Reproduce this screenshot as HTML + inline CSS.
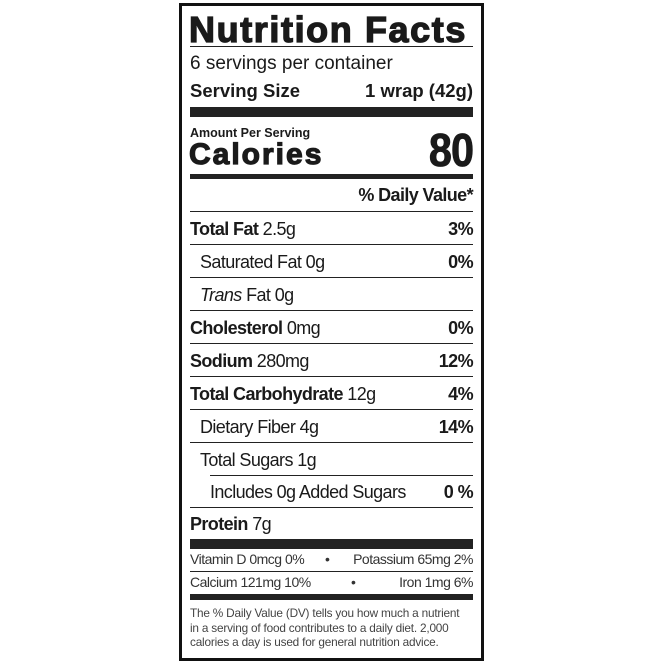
<!DOCTYPE html>
<html><head><style>
body{margin:0;width:664px;height:664px;background:#fff;position:relative;font-family:"Liberation Sans",sans-serif;color:#1a1a1a;overflow:hidden}
.box{position:absolute;left:179px;top:3px;width:299px;height:652px;border:3px solid #111}
.a{position:absolute;white-space:nowrap;line-height:1}
.l{position:absolute;left:190px;width:283px;background:#222}
.r{font-size:18px;letter-spacing:-0.6px}
.b{font-weight:bold}
.rt{position:absolute;right:191px;white-space:nowrap;line-height:1}
.s{font-size:14px;letter-spacing:-0.5px;color:#333}
</style></head><body>
<div class="box"></div>
<div class="a b" style="left:189px;top:12px;font-size:36px;letter-spacing:1.6px;-webkit-text-stroke:1.3px #1a1a1a">Nutrition Facts</div>
<div class="l" style="top:46px;height:1px"></div>
<div class="a" style="left:190px;top:54px;font-size:19px">6 servings per container</div>
<div class="a b" style="left:190px;top:82px;font-size:18.5px">Serving Size</div>
<div class="rt b" style="top:82px;font-size:18.5px">1 wrap (42g)</div>
<div class="l" style="top:107px;height:10px"></div>
<div class="a b" style="left:190px;top:127px;font-size:12.5px">Amount Per Serving</div>
<div class="a b" style="left:189px;top:140px;font-size:30px;letter-spacing:2px;-webkit-text-stroke:1.2px #1a1a1a">Calories</div>
<div class="rt b" style="top:127px;font-size:46px;letter-spacing:-1px;transform:scaleX(0.9);transform-origin:right;-webkit-text-stroke:0.8px #1a1a1a">80</div>
<div class="l" style="top:174px;height:5px"></div>
<div class="rt b r" style="top:186px">% Daily Value*</div>
<div class="l" style="top:211px;height:1px"></div>
<div class="a r" style="left:190px;top:220px"><b>Total Fat</b> 2.5g</div><div class="rt b r" style="top:220px">3%</div>
<div class="l" style="top:244px;height:1px"></div>
<div class="a r" style="left:200px;top:253px">Saturated Fat 0g</div><div class="rt b r" style="top:253px">0%</div>
<div class="l" style="top:277px;height:1px"></div>
<div class="a r" style="left:200px;top:286px"><i>Trans</i> Fat 0g</div>
<div class="l" style="top:310px;height:1px"></div>
<div class="a r" style="left:190px;top:319px"><b>Cholesterol</b> 0mg</div><div class="rt b r" style="top:319px">0%</div>
<div class="l" style="top:343px;height:1px"></div>
<div class="a r" style="left:190px;top:352px"><b>Sodium</b> 280mg</div><div class="rt b r" style="top:352px">12%</div>
<div class="l" style="top:376px;height:1px"></div>
<div class="a r" style="left:190px;top:385px"><b>Total Carbohydrate</b> 12g</div><div class="rt b r" style="top:385px">4%</div>
<div class="l" style="top:409px;height:1px"></div>
<div class="a r" style="left:200px;top:418px">Dietary Fiber 4g</div><div class="rt b r" style="top:418px">14%</div>
<div class="l" style="top:442px;height:1px"></div>
<div class="a r" style="left:200px;top:451px">Total Sugars 1g</div>
<div class="l" style="top:475px;height:1px;left:210px;width:263px"></div>
<div class="a r" style="left:210px;top:483px">Includes 0g Added Sugars</div><div class="rt b r" style="top:483px">0 %</div>
<div class="l" style="top:507px;height:1px"></div>
<div class="a r" style="left:190px;top:515px"><b>Protein</b> 7g</div>
<div class="l" style="top:539px;height:10px"></div>
<div class="a s" style="left:190px;top:552px">Vitamin D 0mcg 0%</div>
<div class="a s" style="left:325px;top:552px">•</div>
<div class="rt s" style="top:552px">Potassium 65mg 2%</div>
<div class="l" style="top:571px;height:1px"></div>
<div class="a s" style="left:190px;top:575px">Calcium 121mg 10%</div>
<div class="a s" style="left:351px;top:575px">•</div>
<div class="rt s" style="top:575px">Iron 1mg 6%</div>
<div class="l" style="top:594px;height:6px"></div>
<div class="a" style="left:190px;top:606px;font-size:11.8px;line-height:14.5px;color:#444;letter-spacing:-0.2px">The % Daily Value (DV) tells you how much a nutrient<br>in a serving of food contributes to a daily diet. 2,000<br>calories a day is used for general nutrition advice.</div>
</body></html>
